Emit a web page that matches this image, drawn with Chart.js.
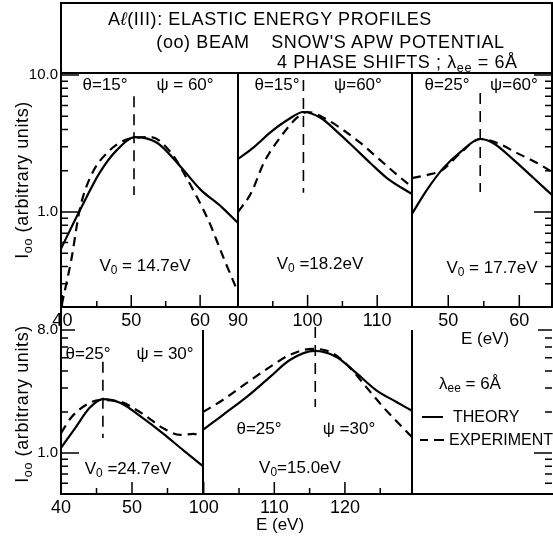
<!DOCTYPE html>
<html>
<head>
<meta charset="utf-8">
<title>Al(111) elastic energy profiles</title>
<script src="https://cdn.jsdelivr.net/npm/chart.js@4.4.1/dist/chart.umd.min.js"></script>
<style>
  body { margin: 0; background: #fff; }
  #fig { position: relative; width: 553px; height: 538px; overflow: hidden; font-family: 'Liberation Sans', Arial, sans-serif; color: #000; }
  #fig canvas { position: absolute; left: 0; top: 0; }
  #titlebox { position: absolute; left: 60px; top: 2px; width: 493px; height: 72px; border: 2px solid #000; box-sizing: border-box; }
  .lbl { position: absolute; white-space: nowrap; line-height: 1; transform: translate(-50%, -50%); font-size: 17px; }
  .lbl sub { font-size: 70%; vertical-align: -0.3em; line-height: 0; }
  .left { transform: translate(0, -50%); }
  .head { font-size: 18px; letter-spacing: 0.6px; }
  .ytitle { transform: translate(-50%, -50%) rotate(-90deg); font-size: 18px; letter-spacing: 0.6px; }
  .key { position: absolute; height: 0; border-top: 2px solid #000; }
</style>
</head>
<body>
<div id="fig">
  <div id="titlebox"></div>
  <div id="plots"></div>

  <div class="lbl head" style="left:270px;top:19px">A<i>ℓ</i>(III): ELASTIC ENERGY PROFILES</div>
  <div class="lbl head" style="left:203px;top:42px">(oo) BEAM</div>
  <div class="lbl head" style="left:388px;top:42px">SNOW'S APW POTENTIAL</div>
  <div class="lbl head left" style="left:277px;top:62px">4 PHASE SHIFTS ; λ<sub>ee</sub> = 6Å</div>

  <div class="lbl ytitle" style="left:22px;top:180px">I<sub>oo</sub> (arbitrary units)</div>
  <div class="lbl ytitle" style="left:22px;top:404px">I<sub>oo</sub> (arbitrary units)</div>

  <div class="lbl" style="left:105px;top:84px">θ=15°</div>
  <div class="lbl" style="left:185px;top:84px">ψ = 60°</div>
  <div class="lbl" style="left:145px;top:265px">V<sub>0</sub> = 14.7eV</div>

  <div class="lbl" style="left:277px;top:84px">θ=15°</div>
  <div class="lbl" style="left:358px;top:84px">ψ=60°</div>
  <div class="lbl" style="left:320px;top:263px">V<sub>0</sub> =18.2eV</div>

  <div class="lbl" style="left:447px;top:84px">θ=25°</div>
  <div class="lbl" style="left:514px;top:84px">ψ=60°</div>
  <div class="lbl" style="left:492px;top:267px">V<sub>0</sub> = 17.7eV</div>
  <div class="lbl" style="left:485px;top:338px">E (eV)</div>

  <div class="lbl" style="left:88px;top:353px">θ=25°</div>
  <div class="lbl" style="left:165px;top:353px">ψ = 30°</div>
  <div class="lbl" style="left:128px;top:468px">V<sub>0</sub> =24.7eV</div>

  <div class="lbl" style="left:259px;top:428px">θ=25°</div>
  <div class="lbl" style="left:349px;top:428px">ψ =30°</div>
  <div class="lbl" style="left:300px;top:467px">V<sub>0</sub>=15.0eV</div>
  <div class="lbl" style="left:280px;top:524px">E (eV)</div>

  <div class="lbl" style="left:470px;top:383px">λ<sub>ee</sub> = 6Å</div>
  <div class="key" style="left:422px;top:416px;width:21px"></div>
  <div class="lbl left" style="left:453px;top:417px;font-size:16px">THEORY</div>
  <div class="key" style="left:420px;top:439px;width:8px"></div>
  <div class="key" style="left:434px;top:439px;width:10px"></div>
  <div class="lbl left" style="left:449px;top:440px;font-size:16px">EXPERIMENT</div>
</div>

<script>
// values: energy E (eV) and intensity I00 (arbitrary units)

// theta 15, psi 60, V0 14.7 eV
const tlEnergyTh = [39.8, 42.8, 45.4, 47.9, 50.6, 53.8, 57.2, 60.1, 63.1, 65.5]
const tlTheory = [0.54, 1.09, 1.93, 2.83, 3.52, 3.19, 2.13, 1.45, 1.09, 0.83]
const tlEnergyEx = [39.9, 41.3, 42.5, 44, 46.9, 50.3, 52.8, 55.7, 58.2, 61.2, 63.5, 65.5]
const tlExperiment = [0.21, 0.45, 1.03, 1.77, 2.83, 3.47, 3.52, 2.74, 1.71, 0.87, 0.45, 0.26]

// theta 15, psi 60, V0 18.2 eV
const tmEnergyTh = [90, 92.3, 94.7, 97.1, 99.4, 101.9, 104.3, 106.6, 109, 111.4, 115]
const tmTheory = [2.44, 2.98, 3.83, 4.69, 5.37, 4.85, 3.83, 2.98, 2.28, 1.77, 1.35]
const tmEnergyEx = [90, 91.9, 93.7, 96.1, 98.6, 100, 102.9, 105.1, 107.6, 110.4, 112.9, 115]
const tmExperiment = [1.0, 1.38, 2.28, 3.52, 4.94, 5.37, 4.69, 3.97, 3.19, 2.4, 1.86, 1.52]

// theta 25, psi 60, V0 17.7 eV
const trEnergyTh = [44.9, 47, 49.3, 51.7, 54.5, 56.3, 59.2, 62, 64.6]
const trTheory = [0.97, 1.45, 2.09, 2.74, 3.41, 3.19, 2.4, 1.77, 1.33]
const trEnergyEx = [44.9, 47, 49.2, 51.7, 54.5, 56.9, 59.7, 62.5, 64.6]
const trExperiment = [1.77, 1.86, 2.03, 2.69, 3.41, 3.19, 2.69, 2.28, 1.96]

// theta 25, psi 30, V0 24.7 eV
const blEnergyTh = [40, 42.1, 44, 45.9, 48.4, 51.3, 54.3, 57.2, 60]
const blTheory = [1.09, 1.55, 2.14, 2.49, 2.33, 1.84, 1.40, 1.05, 0.80]
const blEnergyEx = [40, 41.5, 43.5, 45.4, 47.9, 51.3, 54.3, 56.8, 58.7, 60]
const blExperiment = [1.40, 1.84, 2.25, 2.45, 2.41, 1.97, 1.53, 1.36, 1.38, 1.31]

// theta 25, psi 30, V0 15.0 eV
const bmEnergyTh = [99.9, 102.7, 106.1, 109.4, 112.2, 115.7, 118.8, 121.6, 124.4, 127.3, 129.5]
const bmTheory = [1.48, 1.90, 2.58, 3.62, 4.82, 5.62, 5.07, 3.87, 2.90, 2.37, 2.04]
const bmEnergyEx = [99.9, 102.7, 106.1, 109.4, 112.2, 115.4, 118.2, 120.6, 123, 125.4, 128.1, 129.5]
const bmExperiment = [2.0, 2.45, 3.27, 4.29, 5.25, 5.82, 5.43, 4.29, 3.06, 2.18, 1.55, 1.31]

// dashed peak markers: energy, top and bottom intensity
const peakEnergy = [50.4, 99.4, 54.5, 45.9, 115.8]
const peakTop = [7.0, 9.2, 7.4, 4.67, 8.4]
const peakBottom = [1.33, 1.38, 1.40, 1.29, 2.18]

// axis ticks
const yTicksTop = [0.3, 0.4, 0.5, 0.6, 0.7, 0.8, 0.9, 1, 2, 3, 4, 5, 6, 7, 8, 9, 10]
const yTicksBottom = [0.6, 0.7, 0.8, 0.9, 1, 2, 3, 4, 5, 6, 7, 8]
const yLabelsTop = [1, 10]
const yLabelsBottom = [1, 8]
const tlTicks = [40, 45, 50, 55, 60]
const tlLabels = [40, 50, 60]
const tmTicks = [90, 95, 100, 105, 110]
const tmLabels = [90, 100, 110]
const trTicks = [50, 55, 60]
const trLabels = [50, 60]
const blTicks = [40, 45, 50, 55]
const blLabels = [40, 50]
const bmTicks = [100, 105, 110, 115, 120, 125]
const bmLabels = [100, 110, 120]

const W = 553
const H = 538
Chart.defaults.font.family = "'Liberation Sans', Arial, sans-serif"
Chart.defaults.color = '#000'

const framePlugin = {
  id: 'frame',
  afterDatasetsDraw (chart, args, opts) {
    const { ctx, chartArea: a, scales } = chart
    const sides = opts.sides || ''
    ctx.save()
    ctx.strokeStyle = '#000'
    ctx.lineWidth = 2
    ctx.beginPath()
    if (sides.includes('t')) { ctx.moveTo(a.left, a.top); ctx.lineTo(a.right, a.top) }
    if (sides.includes('b')) { ctx.moveTo(a.left - 1, a.bottom); ctx.lineTo(a.right + 1, a.bottom) }
    if (sides.includes('l')) { ctx.moveTo(a.left, opts.leftFrom || a.top); ctx.lineTo(a.left, a.bottom) }
    if (sides.includes('r')) { ctx.moveTo(a.right, a.top); ctx.lineTo(a.right, a.bottom) }
    ctx.stroke()

    ctx.lineWidth = 1.5
    ctx.beginPath()
    if (opts.xTicks) {
      for (const t of scales.x.ticks) {
        const px = scales.x.getPixelForValue(t.value)
        const len = t.value % 10 === 0 ? 12 : 6
        ctx.moveTo(px, a.bottom); ctx.lineTo(px, a.bottom - len)
      }
    }
    for (const side of opts.ySides || []) {
      const x0 = side === 'l' ? a.left : a.right
      const dir = side === 'l' ? 1 : -1
      for (const t of scales.y.ticks) {
        const py = scales.y.getPixelForValue(t.value)
        const len = (t.value === 1 || t.value === 10) ? 18 : (t.value === 8 && opts.major8 ? 14 : 7)
        ctx.moveTo(x0, py); ctx.lineTo(x0 + dir * len, py)
      }
    }
    ctx.stroke()
    ctx.restore()
  }
}

function points (xs, ys) {
  return xs.map((x, i) => ({ x, y: ys[i] }))
}

function drawPanel (p) {
  const canvas = document.createElement('canvas')
  canvas.width = W
  canvas.height = H
  document.getElementById('plots').appendChild(canvas)

  const yW = p.yAxis ? p.box.left : 0
  const xH = p.xTicks ? 30 : 0
  const datasets = []
  if (p.theory) {
    datasets.push({ data: points(p.energyTh, p.theory), borderColor: '#000', borderWidth: 2.2, pointRadius: 0, cubicInterpolationMode: 'monotone' })
    datasets.push({ data: points(p.energyEx, p.experiment), borderColor: '#000', borderWidth: 2.2, borderDash: [9, 6], pointRadius: 0, cubicInterpolationMode: 'monotone' })
    const k = p.peak
    datasets.push({ data: [{ x: peakEnergy[k], y: peakTop[k] }, { x: peakEnergy[k], y: peakBottom[k] }], borderColor: '#000', borderWidth: 1.6, borderDash: [11, 7], pointRadius: 0, tension: 0, clip: false })
  }

  // eslint-disable-next-line no-unused-vars
  const chart = new Chart(canvas, {
    type: 'line',
    data: { datasets },
    options: {
      responsive: false,
      animation: false,
      devicePixelRatio: 1,
      layout: {
        padding: { left: p.box.left - yW, top: p.box.top, right: W - p.box.right, bottom: H - p.box.bottom - xH }
      },
      scales: {
        x: {
          type: 'linear',
          min: p.xRange[0],
          max: p.xRange[1],
          display: !!p.xTicks,
          grid: { display: false, drawTicks: false },
          border: { display: false },
          afterBuildTicks: s => { s.ticks = (p.xTicks || []).map(v => ({ value: v })) },
          afterFit: s => { s.height = xH },
          ticks: {
            autoSkip: false,
            maxRotation: 0,
            padding: 3,
            font: { size: 18 },
            callback: v => (p.xLabels || []).includes(v) ? String(v) : ''
          }
        },
        y: {
          type: 'logarithmic',
          min: p.yRange[0],
          max: p.yRange[1],
          display: !!p.yAxis,
          grid: { display: false, drawTicks: false },
          border: { display: false },
          afterBuildTicks: s => { s.ticks = p.yTicks.map(v => ({ value: v })) },
          afterFit: s => { s.width = yW },
          ticks: {
            autoSkip: false,
            padding: 3,
            font: { size: 15 },
            callback: v => (p.yLabels || []).includes(v) ? v.toFixed(1) : ''
          }
        }
      },
      plugins: {
        legend: { display: false },
        tooltip: { enabled: false },
        frame: p.frame
      }
    },
    plugins: [framePlugin]
  })
}

const topY = [0.2026, 10.34]
const bottomY = [0.5, 8]

drawPanel({
  box: { left: 61, top: 73, right: 238, bottom: 307 },
  xRange: [39.8, 65.5], yRange: topY, yTicks: yTicksTop, yLabels: yLabelsTop, yAxis: true,
  xTicks: tlTicks, xLabels: tlLabels,
  energyTh: tlEnergyTh, theory: tlTheory, energyEx: tlEnergyEx, experiment: tlExperiment, peak: 0,
  frame: { sides: 'tblr', xTicks: true, ySides: ['l'] }
})
drawPanel({
  box: { left: 238, top: 73, right: 412, bottom: 307 },
  xRange: [90, 115], yRange: topY, yTicks: yTicksTop,
  xTicks: tmTicks, xLabels: tmLabels,
  energyTh: tmEnergyTh, theory: tmTheory, energyEx: tmEnergyEx, experiment: tmExperiment, peak: 1,
  frame: { sides: 'tbr', xTicks: true }
})
drawPanel({
  box: { left: 412, top: 73, right: 552, bottom: 307 },
  xRange: [44.9, 64.6], yRange: topY, yTicks: yTicksTop,
  xTicks: trTicks, xLabels: trLabels,
  energyTh: trEnergyTh, theory: trTheory, energyEx: trEnergyEx, experiment: trExperiment, peak: 2,
  frame: { sides: 'tbr', xTicks: true, ySides: ['r'] }
})
drawPanel({
  box: { left: 61, top: 330, right: 203, bottom: 494 },
  xRange: [40, 60], yRange: bottomY, yTicks: yTicksBottom, yLabels: yLabelsBottom, yAxis: true,
  xTicks: blTicks, xLabels: blLabels,
  energyTh: blEnergyTh, theory: blTheory, energyEx: blEnergyEx, experiment: blExperiment, peak: 3,
  frame: { sides: 'blr', leftFrom: 307, xTicks: true, ySides: ['l'], major8: true }
})
drawPanel({
  box: { left: 203, top: 330, right: 412, bottom: 494 },
  xRange: [99.9, 129.5], yRange: bottomY, yTicks: yTicksBottom,
  xTicks: bmTicks, xLabels: bmLabels,
  energyTh: bmEnergyTh, theory: bmTheory, energyEx: bmEnergyEx, experiment: bmExperiment, peak: 4,
  frame: { sides: 'br', xTicks: true }
})
// legend box: only its bottom edge and the right-hand intensity ticks
drawPanel({
  box: { left: 412, top: 330, right: 552, bottom: 494 },
  xRange: [0, 1], yRange: bottomY, yTicks: yTicksBottom,
  frame: { sides: 'b', ySides: ['r'], major8: true }
})
</script>
</body>
</html>
